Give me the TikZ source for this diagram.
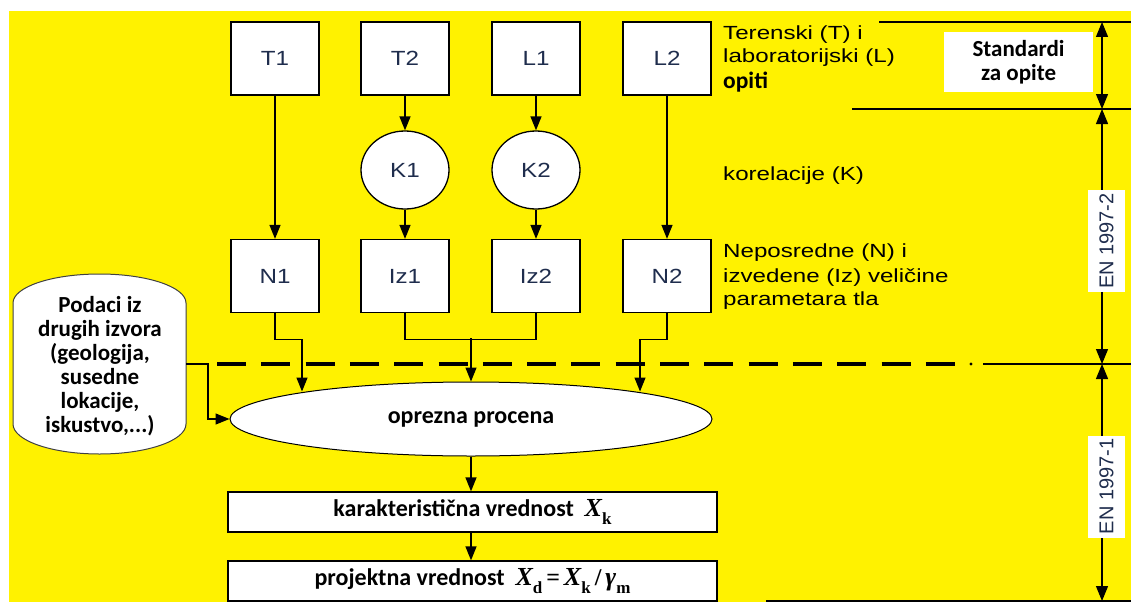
\documentclass[tikz,border=0pt]{standalone}
\usepackage{fontspec}
\setmainfont{Liberation Sans}
\newfontfamily\arw[FakeStretch=1.27]{Liberation Sans}
\newfontfamily\arwb[FakeStretch=1.18]{Liberation Sans}
\newfontfamily\calb{Carlito}
\newfontfamily\tms{Liberation Serif}
\usetikzlibrary{arrows.meta,shapes.geometric}
\definecolor{navy}{HTML}{1F2D4D}
\newcommand\Xsub[2]{{\tms\bfseries\itshape\fontsize{26}{26}\selectfont #1}\raisebox{-0.3em}{\tms\bfseries\fontsize{17}{17}\selectfont #2}}
\tikzset{
  ln/.style={line width=1.3pt},
  arr/.style={ln,-{Triangle[length=14pt,width=11pt]}},
  dbl/.style={ln,{Triangle[length=15pt,width=12pt]}-{Triangle[length=15pt,width=12pt]}},
  sq/.style={draw,ln,fill=white,minimum width=88pt,minimum height=73pt,inner sep=0pt,
    font=\arwb\fontsize{20.5}{20.5}\selectfont,text=navy},
  kel/.style={draw,ln,fill=white,ellipse,minimum width=88pt,minimum height=78pt,inner sep=0pt,
    font=\arwb\fontsize{20.5}{20.5}\selectfont,text=navy},
  wbox/.style={draw,ln,fill=white,minimum width=489pt,minimum height=40pt,inner sep=0pt,
    font=\calb\bfseries\fontsize{24}{24}\selectfont},
  lbl/.style={anchor=base west,inner sep=0pt,font=\arw\fontsize{19}{19}\selectfont},
  enl/.style={fill=white,rotate=90,minimum width=102pt,minimum height=37pt,inner sep=0pt,
    font=\fontsize{20}{20}\selectfont,text=navy},
  cbold/.style={font=\calb\bfseries\fontsize{23}{24}\selectfont},
}
\begin{document}
\begin{tikzpicture}[x=1pt,y=-1pt]
\useasboundingbox (0,0) rectangle (1131,602);
\fill[white] (0,0) rectangle (1131,602);
\fill[yellow] (9,11) rectangle (1131,602);

% test boxes
\node[sq] (T1) at (275,58.5) {T1};
\node[sq] (T2) at (405,58.5) {T2};
\node[sq] (L1) at (536,58.5) {L1};
\node[sq] (L2) at (667,58.5) {L2};
\node[kel] (K1) at (405,170) {K1};
\node[kel] (K2) at (536,170) {K2};
\node[sq] (N1) at (275,276) {N1};
\node[sq] (Iz1) at (405,276) {Iz1};
\node[sq] (Iz2) at (536,276) {Iz2};
\node[sq] (N2) at (667,276) {N2};

% dashed boundary
\draw[line width=3.2pt,dash pattern=on 29pt off 15.3pt] (217,364) -- (955,364);
\fill (971,364) circle (1.7pt);
\draw[ln] (983,364) -- (1131,364);

% cylinder
\draw[line width=1pt,draw=black!75,fill=white] (13,303)
  arc[start angle=180,end angle=0,x radius=86.5pt,y radius=29pt] -- (186,424)
  arc[start angle=0,end angle=-180,x radius=86.5pt,y radius=30pt] -- cycle;
\node[cbold,align=center,inner sep=0pt] (cyl) at (100,366)
  {Podaci iz\\drugih izvora\\(geologija,\\susedne\\lokacije,\\iskustvo,...)};
\coordinate (cylR) at (186,364);

% estimate ellipse and result boxes
\node[draw,line width=1pt,fill=white,ellipse,minimum width=482pt,minimum height=74pt,inner sep=0pt,
  font=\calb\bfseries\fontsize{24}{24}\selectfont] (proc) at (471,419) {oprezna procena};
\node[wbox] (kar) at (472.5,512) {karakteristi\v{c}na vrednost\ \ \Xsub{X}{k}};
\node[wbox] (proj) at (472.5,581) {projektna vrednost\ \ \Xsub{X}{d}\,{\tms\fontsize{24}{24}\selectfont =}\,\Xsub{X}{k}\,{\tms\fontsize{24}{24}\selectfont /}\,\Xsub{γ}{m}};

% connectors
\draw[arr] (T1.south) -- (N1.north);
\draw[arr] (L2.south) -- (N2.north);
\draw[arr] (T2.south) -- (K1.north);
\draw[arr] (L1.south) -- (K2.north);
\draw[arr] (K1.south) -- (Iz1.north);
\draw[arr] (K2.south) -- (Iz2.north);
\coordinate (e1) at (302,391.5);
\coordinate (e2) at (640,391.5);
\coordinate (m) at (471,338);
\draw[arr] (N1.south) -- ++(0,26) -| (e1);
\draw[arr] (N2.south) -- ++(0,26) -| (e2);
\draw[ln] (Iz1.south) -- ++(0,26) -| (Iz2.south);
\draw[arr] (m) -- (proc.north);
\draw[arr] (cylR) -- ++(22,0) |- (proc.west);
\draw[arr] (proc.south) -- (proc.south |- kar.north);
\draw[arr] (proc.south |- kar.south) -- (proc.south |- proj.north);

% right-hand labels
\node[lbl] (tL1) at (723,40) {Terenski (T) i};
\node[lbl] (tL2) at (723,63) {laboratorijski (L)};
\node[lbl,font=\calb\bfseries\fontsize{23.5}{23.5}\selectfont] (tL3) at (723,88) {opiti};
\node[lbl] (tK) at (723,180) {korelacije (K)};
\node[lbl] (tN1) at (723,257) {Neposredne (N) i};
\node[lbl] (tN2) at (723,282) {izvedene (Iz) veli\v{c}ine};
\node[lbl] (tN3) at (723,305) {parametara tla};

% standards dimensioning
\draw[ln] (879,22) -- (1131,22);
\draw[ln] (852,109) -- (1131,109);
\draw[ln] (766,601) -- (1131,601);
\coordinate (d1) at (1102,22);
\coordinate (d2) at (1102,109);
\coordinate (d3) at (1102,364);
\coordinate (d4) at (1102,601);
\draw[dbl] (d1) -- (d2);
\draw[dbl] (d2) -- (d3);
\draw[dbl] (d3) -- (d4);
\node[fill=white,minimum width=149pt,minimum height=60pt,inner sep=0pt,align=center,cbold] (std) at (1018.5,62) {Standardi\\za opite};
\node[enl] (en2) at (1106.5,241) {EN 1997-2};
\node[enl] (en1) at (1106.5,486.5) {EN 1997-1};
\end{tikzpicture}
\end{document}
